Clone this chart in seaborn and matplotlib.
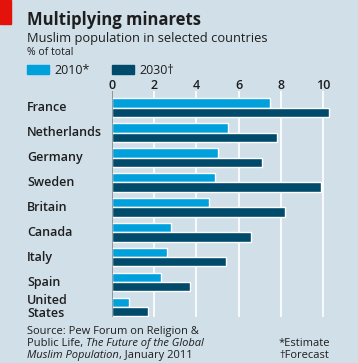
import matplotlib
matplotlib.use("Agg")
import matplotlib.pyplot as plt
import matplotlib.transforms as mtransforms
import seaborn as sns
import pandas as pd
from matplotlib.patches import Rectangle

countries = ["France", "Netherlands", "Germany", "Sweden", "Britain",
             "Canada", "Italy", "Spain", "United\nStates"]
share_2010 = [7.5, 5.5, 5.0, 4.9, 4.6, 2.8, 2.6, 2.3, 0.8]
share_2030 = [10.3, 7.8, 7.1, 9.9, 8.2, 6.6, 5.4, 3.7, 1.7]
years = ["2010", "2030"]
legend_labels = ["2010*", "2030\u2020"]
ticks = [0, 2, 4, 6, 8, 10]

BG = "#d0dfe8"
LIGHT = "#00a0dc"
DARK = "#004a6b"
TXT = "#1e1e1e"

df = pd.DataFrame({
    "country": countries * 2,
    "value": share_2010 + share_2030,
    "year": [years[0]] * len(countries) + [years[1]] * len(countries),
})

sns.set_theme(style="white")
plt.rcParams["font.family"] = ["Open Sans", "DejaVu Sans"]

W, H = 358, 363
fig = plt.figure(figsize=(W / 100, H / 100), dpi=100, facecolor=BG)

def fx(px):
    return px / W

def fy(py):
    return 1 - py / H

ax_left, ax_right, ax_top, ax_bottom = 112, 333.6, 91, 317
ax = fig.add_axes([fx(ax_left), fy(ax_bottom), fx(ax_right - ax_left), (ax_bottom - ax_top) / H])
ax.set_facecolor(BG)

sns.barplot(data=df, y="country", x="value", hue="year", orient="h",
            palette=[LIGHT, DARK], width=0.74, ax=ax, legend=False,
            saturation=1, zorder=3)

ax.set_xlim(0, 10.5)
ax.set_ylim(8.4, -0.67)
ax.set_xticks(ticks)
ax.set_xticklabels([])
ax.tick_params(axis="x", length=0)
ax.set_yticks([])
ax.set_xlabel("")
ax.set_ylabel("")
for s in ax.spines.values():
    s.set_visible(False)
for t in ticks[1:]:
    ax.axvline(t, color="white", lw=1.2, zorder=1)
ax.axvline(0, color="#7f8a90", lw=1.2, zorder=4)

# tick labels above the plot
blend_x = mtransforms.blended_transform_factory(ax.transData, fig.transFigure)
for t in ticks:
    ax.text(t, fy(89), str(t), transform=blend_x, ha="center", va="baseline",
            fontsize=9, color=TXT, fontweight="semibold")

# country labels
blend = mtransforms.blended_transform_factory(fig.transFigure, ax.transData)
for i, c in enumerate(countries):
    ax.text(fx(27), i, c, transform=blend,
            ha="left", va="center", fontsize=9, color=TXT, fontweight="semibold",
            linespacing=0.95)

# red tag
fig.patches.append(Rectangle((0, fy(24)), fx(11), 24 / H, transform=fig.transFigure,
                             color="#e3120b", zorder=5))

fig.text(fx(27), fy(25), "Multiplying minarets", fontsize=12, fontweight="bold",
         color=TXT, ha="left", va="baseline")
fig.text(fx(27), fy(42), "Muslim population in selected countries", fontsize=9.3,
         color=TXT, ha="left", va="baseline", fontweight="medium")
fig.text(fx(27), fy(55), "% of total", fontsize=7.5, color=TXT, ha="left", va="baseline",
         fontweight="medium")

# legend
for x0, col, lab in [(27, LIGHT, legend_labels[0]), (112, DARK, legend_labels[1])]:
    fig.patches.append(Rectangle((fx(x0), fy(74)), fx(22), 9 / H, transform=fig.transFigure,
                                 color=col))
    fig.text(fx(x0 + 27), fy(74), lab, fontsize=9, color=TXT, ha="left", va="baseline",
             fontweight="medium")

# source with italic parts
fig.canvas.draw()
renderer = fig.canvas.get_renderer()

def run(x, y, parts):
    cur = x
    for txt, style in parts:
        t = fig.text(cur, y, txt, fontsize=8, color=TXT, ha="left", va="baseline",
                     style=style, fontweight="medium")
        bb = t.get_window_extent(renderer=renderer)
        cur = cur + bb.width / W

run(fx(27), fy(334), [("Source: Pew Forum on Religion &", "normal")])
run(fx(27), fy(346), [("Public Life, ", "normal"), ("The Future of the Global", "italic")])
run(fx(27), fy(358), [("Muslim Population", "italic"), (", January 2011", "normal")])
fig.text(fx(279), fy(346), "*Estimate", fontsize=8, color=TXT, ha="left", va="baseline",
         fontweight="medium")
fig.text(fx(279), fy(358), "\u2020Forecast", fontsize=8, color=TXT, ha="left", va="baseline",
         fontweight="medium")

fig.savefig("out.png", dpi=100, facecolor=BG)
